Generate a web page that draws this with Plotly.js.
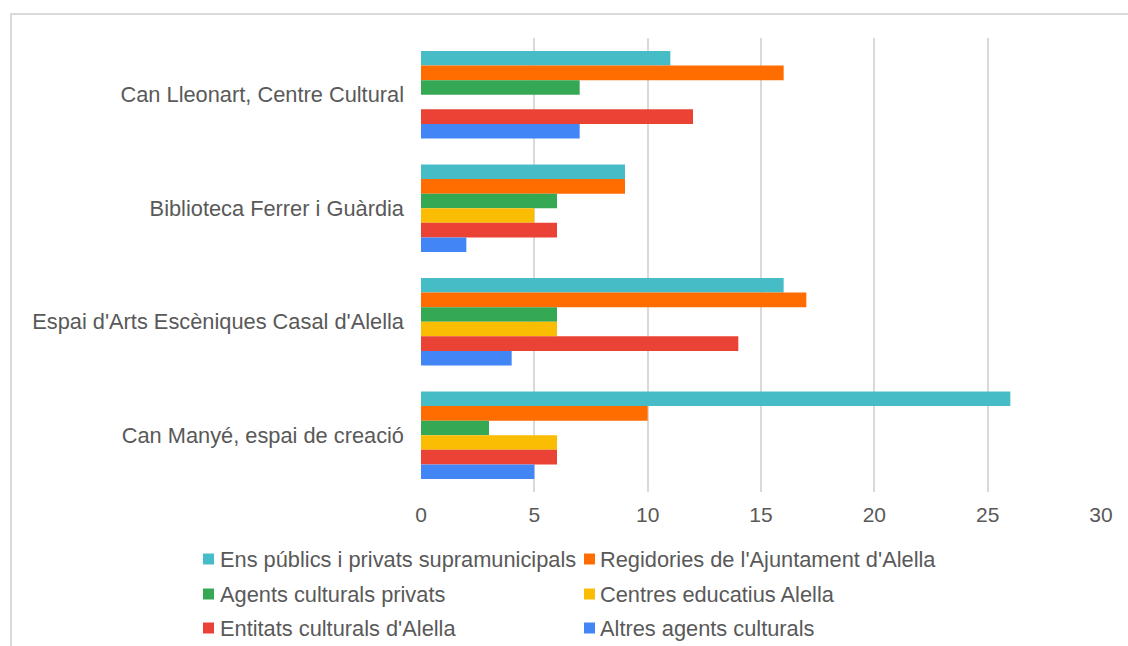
<!DOCTYPE html>
<html>
<head>
<meta charset="utf-8">
<script src="https://cdn.plot.ly/plotly-3.0.1.min.js"></script>
<style>
  html, body { margin: 0; padding: 0; background: #ffffff; }
  #chart { width: 1128px; height: 646px; }
</style>
</head>
<body>
<div id="chart"></div>
<script>
// ---- Data ----
const categories = [
  "Can Lleonart, Centre Cultural",
  "Biblioteca Ferrer i Guàrdia",
  "Espai d'Arts Escèniques Casal d'Alella",
  "Can Manyé, espai de creació"
];
const seriesNames = [
  "Ens públics i privats supramunicipals",
  "Regidories de l'Ajuntament d'Alella",
  "Agents culturals privats",
  "Centres educatius Alella",
  "Entitats culturals d'Alella",
  "Altres agents culturals"
];
const ensPublics   = [11, 9, 16, 26];
const regidories   = [16, 9, 17, 10];
const agentsPriv   = [7, 6, 6, 3];
const centresEduc  = [null, 5, 6, 6];
const entitats     = [12, 6, 14, 6];
const altres       = [7, 2, 4, 5];
const seriesValues = [ensPublics, regidories, agentsPriv, centresEduc, entitats, altres];
const seriesColors = ["#46BDC6", "#FF6D01", "#34A853", "#FBBC04", "#EA4335", "#4285F4"];
const xTickValues = [0, 5, 10, 15, 20, 25, 30];

// ---- Layout geometry ----
const W = 1128, H = 646;
const M = { l: 421, r: 27, t: 38, b: 154 };
const plotW = W - M.l - M.r;
const plotH = H - M.t - M.b;
const px2x = px => (px - M.l) / plotW;
const py2y = py => (H - M.b - py) / plotH;

const textColor = "#595959";
const fontFamily = "Liberation Sans, Arial, sans-serif";

const traces = seriesNames.map((name, i) => ({
  type: "bar",
  orientation: "h",
  name: name,
  y: categories,
  x: seriesValues[i],
  marker: { color: seriesColors[i], line: { width: 0 } },
  hoverinfo: "x+name",
  showlegend: false
}));

// Custom legend (2 columns x 3 rows)
const legendCols = [
  { sq: 203, text: 218 },
  { sq: 584, text: 598 }
];
const legendRows = [559, 594, 628];
const sqSize = 11;
const shapes = [
  // outer frame
  {
    type: "rect", xref: "paper", yref: "paper",
    x0: px2x(11), x1: px2x(1140), y0: py2y(14), y1: py2y(660),
    line: { color: "#d9d9d9", width: 2 }, fillcolor: "rgba(0,0,0,0)", layer: "below"
  }
];
const annotations = [];
seriesNames.forEach((name, i) => {
  const col = legendCols[i % 2];
  const row = legendRows[Math.floor(i / 2)];
  shapes.push({
    type: "rect", xref: "paper", yref: "paper",
    x0: px2x(col.sq), x1: px2x(col.sq + sqSize),
    y0: py2y(row - sqSize / 2), y1: py2y(row + sqSize / 2),
    line: { width: 0 }, fillcolor: seriesColors[i]
  });
  annotations.push({
    xref: "paper", yref: "paper",
    x: px2x(col.text), y: py2y(row),
    xanchor: "left", yanchor: "middle",
    text: name, showarrow: false,
    font: { family: fontFamily, size: 21.8, color: textColor }
  });
});

const layout = {
  width: W, height: H,
  margin: M,
  paper_bgcolor: "#ffffff",
  plot_bgcolor: "#ffffff",
  barmode: "group",
  bargap: 0.23,
  bargroupgap: 0,
  showlegend: false,
  font: { family: fontFamily, size: 21, color: textColor },
  xaxis: {
    range: [0, 30],
    tickvals: xTickValues,
    ticktext: xTickValues.map(String),
    showgrid: true,
    gridcolor: "#d9d9d9",
    gridwidth: 2,
    zeroline: false,
    showline: false,
    ticks: "",
    ticklabelstandoff: 8,
    tickfont: { family: fontFamily, size: 21, color: textColor },
    fixedrange: true
  },
  yaxis: {
    type: "category",
    categoryorder: "array",
    categoryarray: categories,
    autorange: "reversed",
    showgrid: false,
    zeroline: false,
    showline: false,
    ticks: "",
    ticklabelstandoff: 16,
    tickfont: { family: fontFamily, size: 21.8, color: textColor },
    fixedrange: true
  },
  shapes: shapes,
  annotations: annotations
};

Plotly.newPlot("chart", traces, layout, { displayModeBar: false, staticPlot: false });
</script>
</body>
</html>
